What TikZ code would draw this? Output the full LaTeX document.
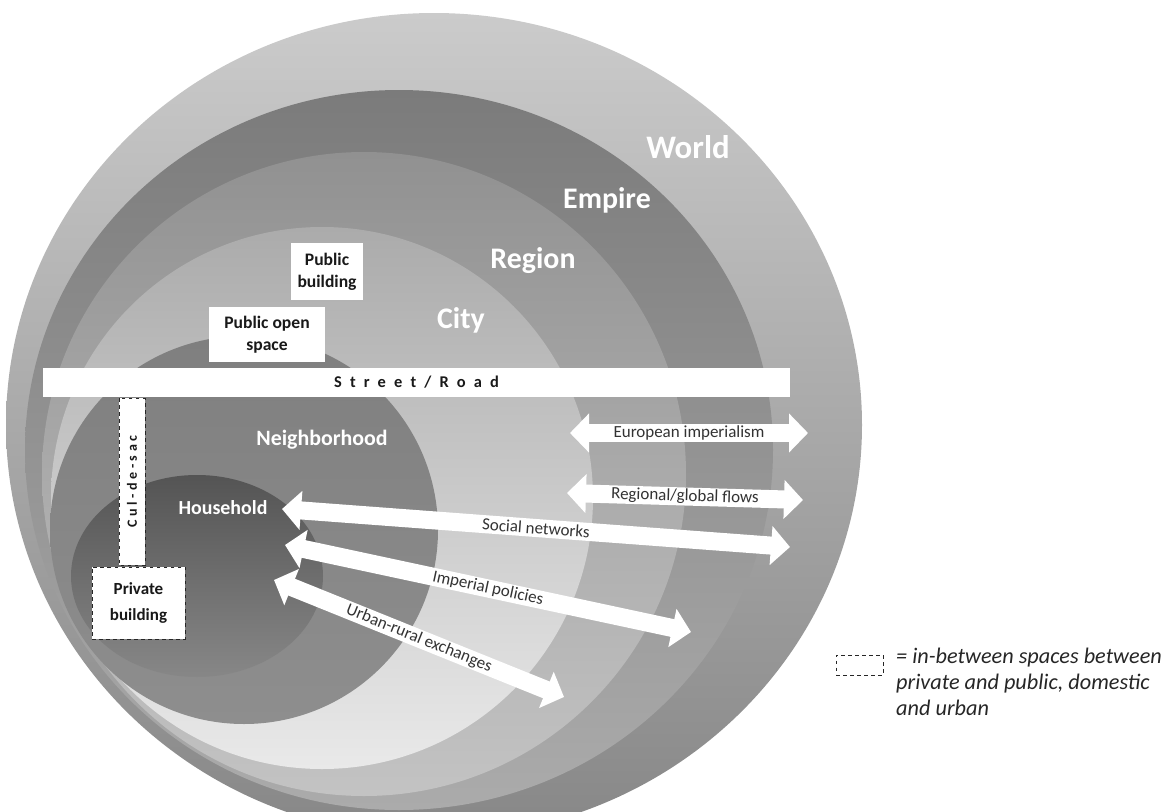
\documentclass[tikz,border=0pt]{standalone}
\usepackage{fontspec}
\setmainfont{Carlito}
\newfontfamily\roadfont[LetterSpace=50]{Carlito}
\newfontfamily\culfont[LetterSpace=25]{Carlito}
\usetikzlibrary{arrows.meta}

\definecolor{worldtop}{HTML}{CBCBCB}
\definecolor{worldbot}{HTML}{878787}
\definecolor{empiretop}{HTML}{7B7B7B}
\definecolor{empirebot}{HTML}{ABABAB}
\definecolor{regiontop}{HTML}{919191}
\definecolor{regionbot}{HTML}{C3C3C3}
\definecolor{citytop}{HTML}{ABABAB}
\definecolor{citybot}{HTML}{E9E9E9}
\definecolor{neightop}{HTML}{7F7F7F}
\definecolor{neighbot}{HTML}{8E8E8E}
\definecolor{housetop}{HTML}{545454}
\definecolor{housebot}{HTML}{878787}

\begin{document}
\begin{tikzpicture}[
		x=0.03cm, y=-0.03cm,
		>={Triangle[length=5.7mm,width=11.4mm]},
		ring/.style={draw=none,shading angle=30},
		level/.style={text=white,font=\bfseries\fontsize{25.5}{30}\selectfont},
		openbox/.style={fill=white,inner sep=0pt,align=center,text=black!90,font=\bfseries\fontsize{15}{19}\selectfont},
		inbetween/.style={openbox,draw=black!85,dashed,thick},
		flow/.style={<->,white,line width=5.4mm},
		flowlabel/.style={midway,sloped,inner sep=0pt,text=black!80,font=\fontsize{14.5}{16}\selectfont}
	]

		\useasboundingbox (0,0) rectangle (1171,812);

		% Rings
		\begin{scope}
			\clip (0,0) rectangle (1171,812);
			\shade[ring,top color=worldtop,bottom color=worldbot] (434,425) ellipse [x radius=428,y radius=412];
			\shade[ring,top color=empiretop,bottom color=empirebot] (399,450) ellipse [x radius=374,y radius=360];
			\shade[ring,top color=regiontop,bottom color=regionbot] (364,474) circle (322);
			\shade[ring,top color=citytop,bottom color=citybot] (322,498) circle (271);
			\shade[ring,top color=neightop,bottom color=neighbot,shading angle=0] (244,530) circle (194);
			\shade[ring,top color=housetop,bottom color=housebot,shading angle=0] (197,576) ellipse [x radius=126,y radius=101];
		\end{scope}

		% Ring names
		\node[level,font=\bfseries\fontsize{28}{32}\selectfont] (world) at (688,147) {World};
		\node[level] (empire) at (607,200) {Empire};
		\node[level] (region) at (533,261) {Region};
		\node[level] (city) at (461,320) {City};
		\node[level,font=\bfseries\fontsize{18.7}{22}\selectfont] (neigh) at (322,440) {Neighborhood};
		\node[level,font=\bfseries\fontsize{17}{20}\selectfont] (house) at (223,508) {Household};

		% Spaces
		\node[openbox,minimum width=2.16cm,minimum height=1.71cm] (pubbuild) at (327,271.5) {Public\\building};
		\node[openbox,minimum width=3.48cm,minimum height=1.65cm] (pubopen) at (267,334.5) {Public open\\space};
		\node[openbox,minimum width=22.41cm,minimum height=0.87cm,font=\roadfont\bfseries\fontsize{14}{16}\selectfont] (road) at (416.5,382.5) {Street/Road};
		\node[inbetween,rotate=90,minimum width=5.01cm,minimum height=0.78cm,font=\culfont\bfseries\fontsize{12}{14}\selectfont] (culdesac) at (132,481.5) {Cul-de-sac};
		\node[inbetween,minimum width=2.79cm,minimum height=2.16cm,font=\bfseries\fontsize{14.5}{22}\selectfont] (privbuild) at (138.5,603) {Private\\building};

		% Flows
		\coordinate (euro-w) at (570,433);
		\coordinate (euro-e) at (808,433);
		\coordinate (glob-w) at (567,493);
		\coordinate (glob-e) at (803,500);
		\coordinate (soc-w) at (282,509);
		\coordinate (soc-e) at (790,547);
		\coordinate (imp-w) at (285,545);
		\coordinate (imp-e) at (691,632);
		\coordinate (urb-w) at (274,580);
		\coordinate (urb-e) at (564,697);

		\draw[flow] (euro-w) -- (euro-e) node[flowlabel] (eurolabel) {European imperialism};
		\draw[flow] (glob-w) -- (glob-e) node[flowlabel] (globlabel) {Regional/global flows};
		\draw[flow] (soc-w) -- (soc-e) node[flowlabel] (soclabel) {Social networks};
		\draw[flow] (imp-w) -- (imp-e) node[flowlabel] (implabel) {Imperial policies};
		\draw[flow] (urb-w) -- (urb-e) node[flowlabel] (urblabel) {Urban-rural exchanges};

		% Legend
		\node[inbetween,minimum width=1.41cm,minimum height=0.6cm,fill=none] (legendbox) at (859.5,665) {};
		\node[anchor=north west,align=left,inner sep=0pt,text=black!85,font=\itshape\fontsize{19}{22}\selectfont] (legend) at (896,648) {= in-between spaces between\\private and public, domestic\\and urban};
	\end{tikzpicture}
\end{document}
